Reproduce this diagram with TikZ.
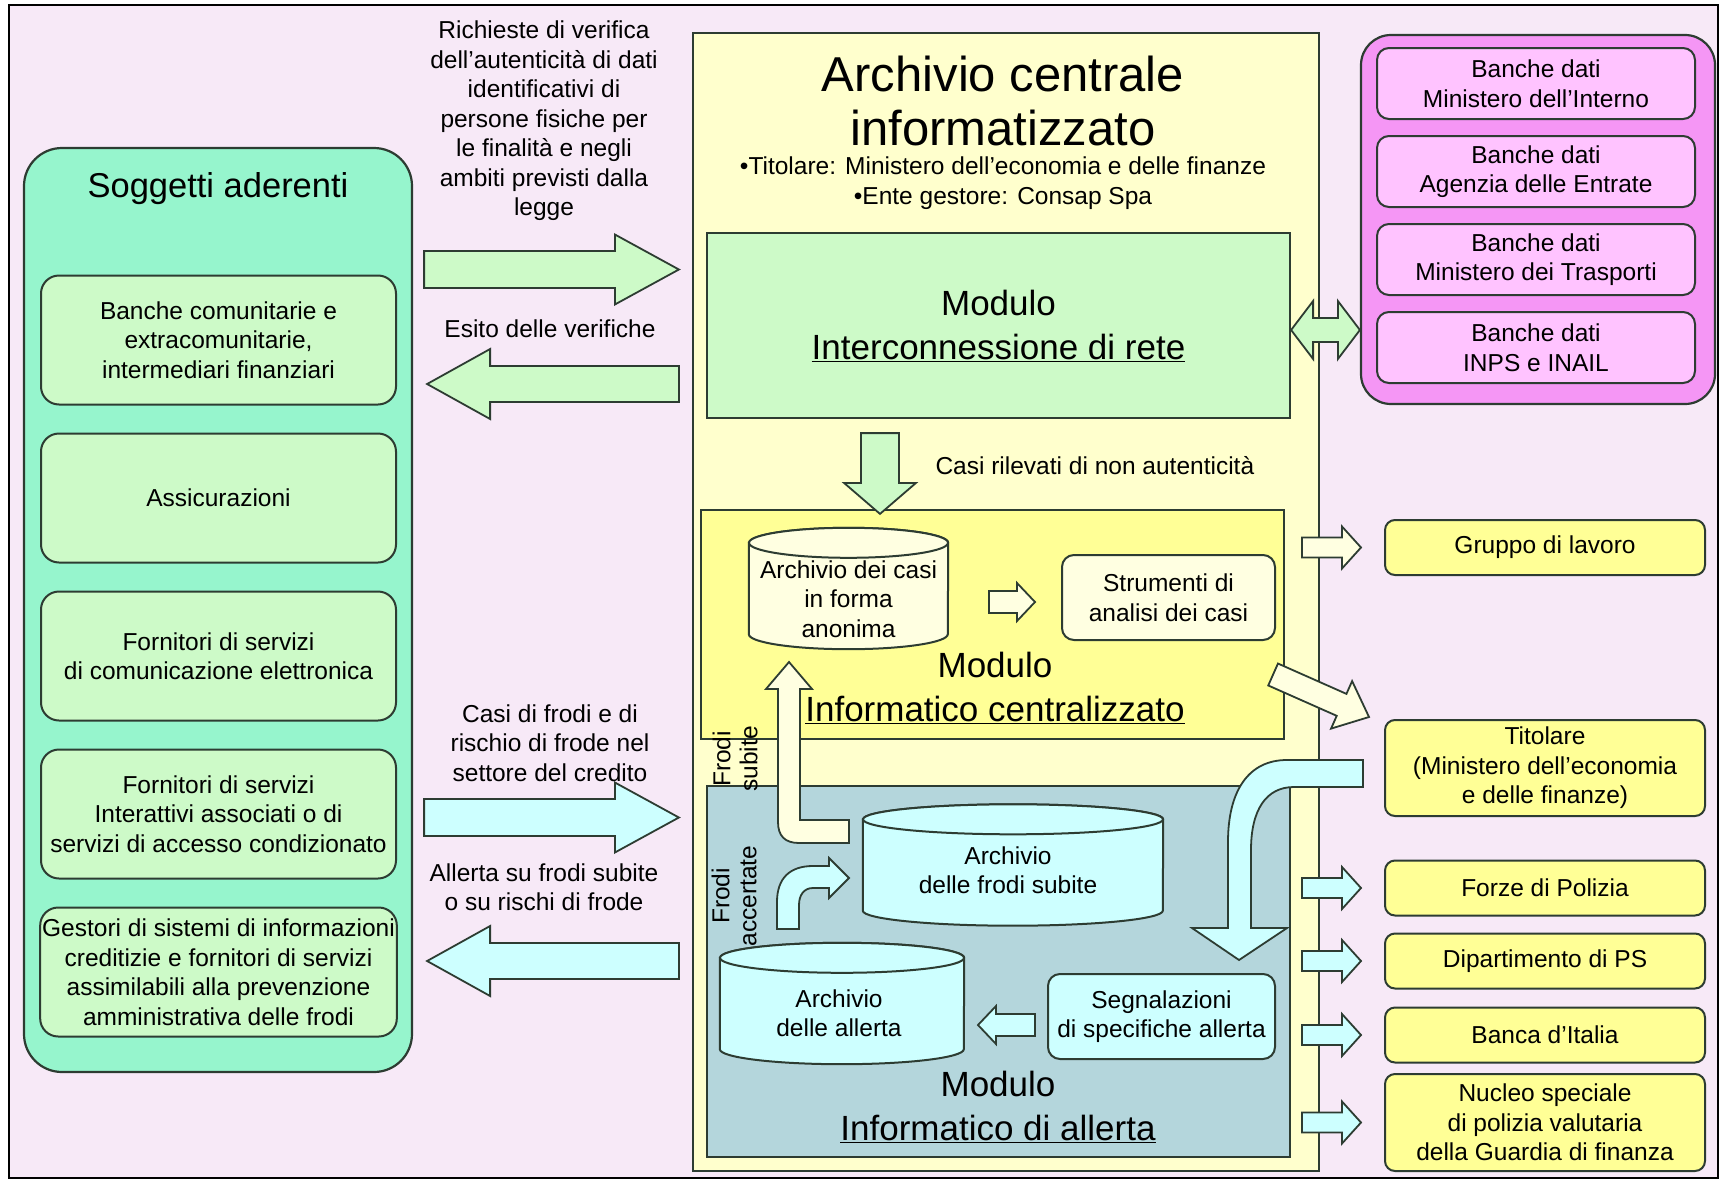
\documentclass[tikz,border=0pt]{standalone}
\usepackage{fontspec}
\setmainfont{Liberation Sans}
\usetikzlibrary{positioning,calc}

\definecolor{bgpink}{RGB}{247,233,247}
\definecolor{edgegray}{RGB}{45,60,50}
\definecolor{mintfill}{RGB}{150,245,205}
\definecolor{palegreen}{RGB}{205,250,200}
\definecolor{creamfill}{RGB}{255,255,205}
\definecolor{yellowfill}{RGB}{255,255,150}
\definecolor{paleyellow}{RGB}{255,255,225}
\definecolor{cyanfill}{RGB}{205,255,255}
\definecolor{tealfill}{RGB}{180,214,220}
\definecolor{pinkfill}{RGB}{245,150,245}
\definecolor{pinklight}{RGB}{255,195,255}

\newcommand{\fatarrow}[6][]{%
  \coordinate (fa-s) at (#2);
  \coordinate (fa-e) at (#3);
  \coordinate (fa-b) at ($(fa-e)!#6!(fa-s)$);
  \draw[#1] ($(fa-s)!#4!90:(fa-e)$) -- ($(fa-b)!#4!-90:(fa-s)$) -- ($(fa-b)!#5!-90:(fa-s)$)
    -- (fa-e) -- ($(fa-b)!#5!90:(fa-s)$) -- ($(fa-b)!#4!90:(fa-s)$) -- ($(fa-s)!#4!-90:(fa-e)$) -- cycle;}
\newcommand{\dblarrow}[6][]{%
  \coordinate (da-s) at (#2);
  \coordinate (da-e) at (#3);
  \coordinate (da-a) at ($(da-s)!#6!(da-e)$);
  \coordinate (da-b) at ($(da-e)!#6!(da-s)$);
  \draw[#1] (da-s) -- ($(da-a)!#5!90:(da-e)$) -- ($(da-a)!#4!90:(da-e)$) -- ($(da-b)!#4!-90:(da-s)$)
    -- ($(da-b)!#5!-90:(da-s)$) -- (da-e) -- ($(da-b)!#5!90:(da-s)$) -- ($(da-b)!#4!90:(da-s)$)
    -- ($(da-a)!#4!-90:(da-e)$) -- ($(da-a)!#5!-90:(da-e)$) -- cycle;}
\newcommand{\drumshape}[4][]{%
  \draw[drum,#1] ([yshift=-#4]#2.north west) -- ([yshift=#4]#2.south west)
    arc[start angle=180, end angle=360, x radius=#3, y radius=#4]
    -- ([yshift=-#4]#2.north east)
    arc[start angle=0, end angle=180, x radius=#3, y radius=#4] -- cycle;
  \draw[drum,#1] ([yshift=-#4]#2.north) ellipse[x radius=#3, y radius=#4];}

\begin{document}
\begin{tikzpicture}[
  x=1pt, y=-1pt,
  txt/.style={font=\fontsize{24.5}{29.5}\selectfont, align=center},
  soggbox/.style={draw=edgegray, line width=2.2pt, fill=mintfill, rounded corners=38pt, inner sep=0pt},
  memberbox/.style={txt, draw=edgegray, line width=2pt, fill=palegreen, rounded corners=18pt, minimum width=355pt, minimum height=129pt, inner sep=2pt},
  archbox/.style={draw=edgegray, line width=2.2pt, fill=creamfill, inner sep=0pt},
  modbox/.style={draw=edgegray, line width=2.2pt, inner sep=0pt, font=\fontsize{35}{44}\selectfont, align=center},
  modlabel/.style={font=\fontsize{35}{44}\selectfont, align=center},
  toolbox/.style={txt, draw=edgegray, line width=2pt, rounded corners=12pt, inner sep=2pt},
  drum/.style={draw=edgegray, line width=2pt},
  sidelabel/.style={txt, rotate=90, font=\fontsize{24.5}{27}\selectfont},
  dbgroup/.style={draw=edgegray, line width=2.2pt, fill=pinkfill, rounded corners=30pt, inner sep=0pt},
  dbbox/.style={txt, draw=edgegray, line width=2pt, fill=pinklight, rounded corners=12pt, minimum width=318pt, minimum height=71pt, inner sep=1pt},
  outbox/.style={txt, draw=edgegray, line width=2pt, fill=yellowfill, rounded corners=10pt, minimum width=320pt, inner sep=1pt},
  barrow/.style={draw=edgegray, line width=1.8pt, line join=miter}
]
  \useasboundingbox (0,0) rectangle (1724,1183);
  \node[draw=black, line width=1.5pt, fill=bgpink, minimum width=1709pt, minimum height=1173pt, inner sep=0pt] (frame) at (863.5,591.5) {};

  \node[soggbox, minimum width=388pt, minimum height=924pt] (sogg) at (218,610) {};
  \node[font=\fontsize{34.5}{40}\selectfont] (soggtitle) at (218,189) {Soggetti aderenti};
  \node[memberbox] (banche) at (218.5,340) {Banche comunitarie e\\extracomunitarie,\\intermediari finanziari};
  \node[memberbox, below=27pt of banche] (assic) {Assicurazioni};
  \node[memberbox, below=27pt of assic] (comel) {Fornitori di servizi\\di comunicazione elettronica};
  \node[memberbox, below=27pt of comel] (intera) {Fornitori di servizi\\Interattivi associati o di\\servizi di accesso condizionato};
  \node[memberbox, below=27pt of intera] (gestori) {Gestori di sistemi di informazioni\\creditizie e fornitori di servizi\\assimilabili alla prevenzione\\amministrativa delle frodi};

  \node[archbox, minimum width=626pt, minimum height=1138pt] (arch) at (1006,602) {};
  \node[font=\fontsize{49}{54}\selectfont, align=center] (archtitle) at (1003,101) {Archivio centrale\\informatizzato};
  \node[txt] (archinfo) at (1003,183) {•Titolare: Ministero dell'economia e delle finanze\\•Ente gestore: Consap Spa};

  \node[modbox, fill=palegreen, minimum width=583pt, minimum height=185pt] (inter) at (998.5,325.5) {Modulo\\\underline{Interconnessione di rete}};

  \node[modbox, fill=yellowfill, minimum width=583pt, minimum height=229pt] (centr) at (992.5,624.5) {};
  \node[modlabel] (centrlbl) at (995,688) {Modulo\\\underline{Informatico centralizzato}};
  \node[minimum width=199pt, minimum height=121pt, inner sep=0pt] (cylcasi) at (848.5,588.5) {};
  \drumshape[fill=paleyellow]{cylcasi}{99.5pt}{15pt}
  \node[txt] (cylcasilbl) at (848.5,599) {Archivio dei casi\\in forma\\anonima};
  \node[toolbox, fill=paleyellow, minimum width=213pt, minimum height=85pt] (strum) at (1168.5,597.5) {Strumenti di\\analisi dei casi};
  \fatarrow[barrow, fill=paleyellow]{$(strum.west)+(-72,4.5)$}{$(strum.west)+(-26,4.5)$}{11pt}{19pt}{18pt}
  \fatarrow[barrow, fill=palegreen]{$(inter.south)+(-118.5,14)$}{$(centr.north)+(-112.5,5)$}{19pt}{36pt}{31pt}
  \node[txt, anchor=west] (casilbl) at (932,466) {Casi rilevati di non autenticità};

  \node[modbox, fill=tealfill, minimum width=583pt, minimum height=371pt] (aller) at (998.5,971.5) {};
  \node[modlabel] (allerlbl) at (998,1107) {Modulo\\\underline{Informatico di allerta}};
  \node[minimum width=300pt, minimum height=121pt, inner sep=0pt] (cylsub) at (1013,865) {};
  \drumshape[fill=cyanfill]{cylsub}{150pt}{15pt}
  \node[txt] (cylsublbl) at (1008,870) {Archivio\\delle frodi subite};
  \node[minimum width=244pt, minimum height=121pt, inner sep=0pt] (cylall) at (842,1003.5) {};
  \drumshape[fill=cyanfill]{cylall}{122pt}{15pt}
  \node[txt] (cylalllbl) at (839,1013) {Archivio\\delle allerta};
  \node[toolbox, fill=cyanfill, minimum width=227pt, minimum height=85pt] (segn) at (1161.5,1016.5) {Segnalazioni\\di specifiche allerta};
  \fatarrow[barrow, fill=cyanfill]{$(segn.west)+(-12,8.5)$}{$(segn.west)+(-69,8.5)$}{11pt}{19pt}{18pt}

  \draw[barrow, fill=paleyellow] (849,820) -- (800,820) -- (800,689) -- (812,689) -- (789,662) -- (766,689) -- (778,689) -- (778,822) .. controls (778,836) and (785,843) .. (799,843) -- (849,843) -- cycle;
  \draw[barrow, fill=cyanfill] (777,929) -- (777,902) .. controls (777,878) and (790,866) .. (813,866) -- (829,866) -- (829,858) -- (849,878) -- (829,898) -- (829,888) -- (813,888) .. controls (804,888) and (799,895) .. (799,905) -- (799,929) -- cycle;
  \node[sidelabel] (fsublbl) at (735,759) {Frodi\\subite};
  \node[sidelabel] (facclbl) at (734,896) {Frodi\\accertate};

  \node[dbgroup, minimum width=354pt, minimum height=369pt] (dbs) at (1538,219.5) {};
  \node[dbbox] (dbint) at (1536,83.5) {Banche dati\\Ministero dell'Interno};
  \node[dbbox, below=15pt of dbint] (dbent) {Banche dati\\Agenzia delle Entrate};
  \node[dbbox, below=15pt of dbent] (dbtra) {Banche dati\\Ministero dei Trasporti};
  \node[dbbox, below=15pt of dbtra] (dbinps) {Banche dati\\INPS e INAIL};
  \dblarrow[barrow, fill=palegreen]{$(inter.east)+(0,4.5)$}{$(inter.east -| dbs.west)+(0,4.5)$}{12pt}{29pt}{22pt}

  \node[outbox, minimum height=55pt] (grup) at (1545,547.5) {Gruppo di lavoro};
  \node[outbox, minimum height=96pt] (tit) at (1545,768) {Titolare\\(Ministero dell'economia\\e delle finanze)};
  \node[outbox, minimum height=55pt] (forze) at (1545,888) {Forze di Polizia};
  \node[outbox, minimum height=55pt, below=16pt of forze] (dip) {Dipartimento di PS};
  \node[outbox, minimum height=55pt, below=17pt of dip] (banca) {Banca d'Italia};
  \node[outbox, minimum height=97pt] (nucleo) at (1545,1122.5) {Nucleo speciale\\di polizia valutaria\\della Guardia di finanza};
  \fatarrow[barrow, fill=paleyellow]{[xshift=-82pt]grup.west}{[xshift=-23pt]grup.west}{10pt}{21pt}{19pt}
  \foreach \b in {forze,dip,banca,nucleo}
    \fatarrow[barrow, fill=cyanfill]{[xshift=-82pt]\b.west}{[xshift=-23pt]\b.west}{10pt}{21pt}{19pt};
  \fatarrow[barrow, fill=paleyellow]{$(centr.east)+(-12,50)$}{$(tit.north west)+(-15,-2)$}{12pt}{26pt}{30pt}
  \draw[barrow, fill=cyanfill] (1363,760) -- (1287,760) .. controls (1249,760) and (1228,790) .. (1228,842) -- (1228,928) -- (1192,928) -- (1239,960) -- (1287,928) -- (1251,928) -- (1251,850) .. controls (1251,810) and (1266,787) .. (1294,787) -- (1363,787) -- cycle;

  \fatarrow[barrow, fill=palegreen]{$(sogg.east |- 0,269.5)+(11,0)$}{$(arch.west |- 0,269.5)+(-13,0)$}{18.5pt}{35pt}{64pt}
  \fatarrow[barrow, fill=palegreen]{$(arch.west |- 0,384)+(-13,0)$}{$(sogg.east |- 0,384)+(14,0)$}{18pt}{35pt}{63pt}
  \fatarrow[barrow, fill=cyanfill]{$(sogg.east |- 0,817.5)+(11,0)$}{$(arch.west |- 0,817.5)+(-13,0)$}{18.5pt}{35pt}{64pt}
  \fatarrow[barrow, fill=cyanfill]{$(arch.west |- 0,961)+(-13,0)$}{$(sogg.east |- 0,961)+(14,0)$}{18pt}{35pt}{63pt}
  \node[txt] (reqlbl) at (544,121) {Richieste di verifica\\dell'autenticità di dati\\identificativi di\\persone fisiche per\\le finalità e negli\\ambiti previsti dalla\\legge};
  \node[txt] (esitolbl) at (550,329) {Esito delle verifiche};
  \node[txt] (frodilbl) at (550,743) {Casi di frodi e di\\rischio di frode nel\\settore del credito};
  \node[txt] (allertalbl) at (544,887) {Allerta su frodi subite\\o su rischi di frode};
\end{tikzpicture}
\end{document}
